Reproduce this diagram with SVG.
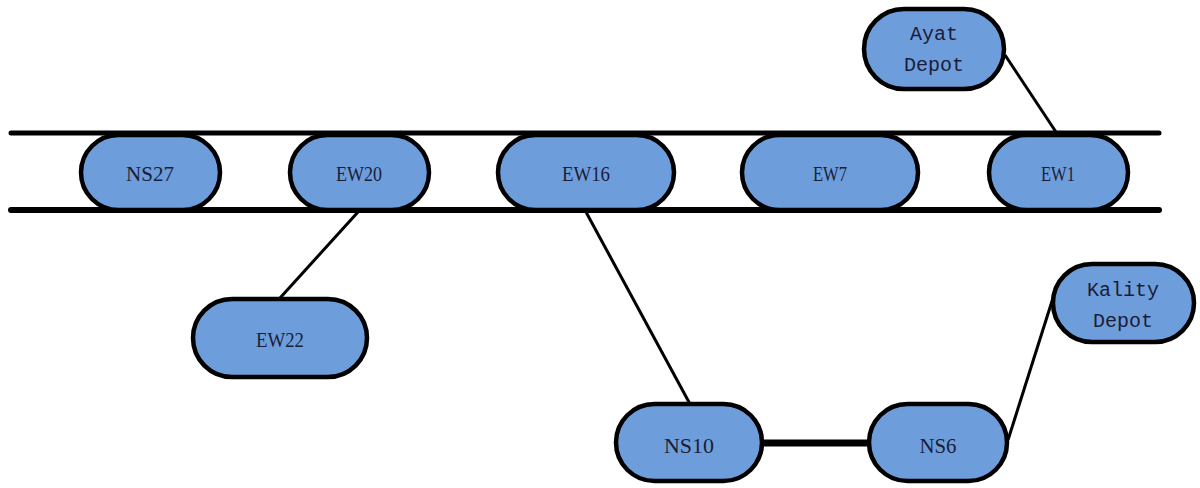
<svg xmlns="http://www.w3.org/2000/svg" width="1200" height="488" viewBox="0 0 1200 488">
  <style>
    .node { fill: #6d9edb; stroke: #000; stroke-width: 4.5; }
    .label { font-family: "Liberation Serif", "DejaVu Serif", serif; font-size: 22px; fill: #1c1c38; text-anchor: middle; dominant-baseline: central; }
    .mono { font-family: "Liberation Mono", "DejaVu Sans Mono", monospace; font-size: 20px; fill: #1c1c38; text-anchor: middle; dominant-baseline: central; }
    .link { stroke: #000; stroke-width: 3; fill: none; }
    .thick { stroke-width: 7; }
    .rail { stroke: #000; fill: none; stroke-linecap: round; }
  </style>

  <!-- main corridor rails and branch links -->
  <g id="connectors">
    <line class="rail" x1="11" y1="133" x2="1159" y2="133" stroke-width="5"/>
    <line class="rail" x1="11" y1="210" x2="1159" y2="210" stroke-width="6"/>
    <line class="link" x1="1005" y1="55" x2="1056" y2="132"/>
    <line class="link" x1="358" y1="212" x2="280" y2="298"/>
    <line class="link" x1="586" y1="212" x2="690" y2="404"/>
    <line class="link thick" x1="762" y1="443" x2="869" y2="443"/>
    <line class="link" x1="1008" y1="440" x2="1053" y2="298"/>
  </g>

  <g id="NS27">
    <rect class="node" x="81" y="135" width="139" height="75" rx="37.5"/>
    <text class="label" x="150" y="173" textLength="48" lengthAdjust="spacingAndGlyphs">NS27</text>
  </g>
  <g id="EW20">
    <rect class="node" x="290" y="135" width="139" height="75" rx="37.5"/>
    <text class="label" x="359" y="173" textLength="46" lengthAdjust="spacingAndGlyphs">EW20</text>
  </g>
  <g id="EW16">
    <rect class="node" x="498" y="135" width="176" height="75" rx="37.5"/>
    <text class="label" x="586" y="173" textLength="48" lengthAdjust="spacingAndGlyphs">EW16</text>
  </g>
  <g id="EW7">
    <rect class="node" x="742" y="135" width="176" height="75" rx="37.5"/>
    <text class="label" x="830" y="173" textLength="34" lengthAdjust="spacingAndGlyphs">EW7</text>
  </g>
  <g id="EW1">
    <rect class="node" x="989" y="135" width="139" height="75" rx="37.5"/>
    <text class="label" x="1058" y="173" textLength="34" lengthAdjust="spacingAndGlyphs">EW1</text>
  </g>
  <g id="AyatDepot">
    <rect class="node" x="864" y="9" width="140" height="80" rx="40"/>
    <text class="mono" x="934" y="34">Ayat</text>
    <text class="mono" x="934" y="65">Depot</text>
  </g>
  <g id="EW22">
    <rect class="node" x="193" y="299" width="174" height="78" rx="39"/>
    <text class="label" x="280" y="339" textLength="48" lengthAdjust="spacingAndGlyphs">EW22</text>
  </g>
  <g id="NS10">
    <rect class="node" x="616" y="404" width="146" height="77" rx="38.5"/>
    <text class="label" x="689" y="445" textLength="50" lengthAdjust="spacingAndGlyphs">NS10</text>
  </g>
  <g id="NS6">
    <rect class="node" x="869" y="404" width="138" height="77" rx="38.5"/>
    <text class="label" x="938" y="445" textLength="37" lengthAdjust="spacingAndGlyphs">NS6</text>
  </g>
  <g id="KalityDepot">
    <rect class="node" x="1053" y="264" width="141" height="78" rx="39"/>
    <text class="mono" x="1123" y="290">Kality</text>
    <text class="mono" x="1123" y="321">Depot</text>
  </g>
</svg>
